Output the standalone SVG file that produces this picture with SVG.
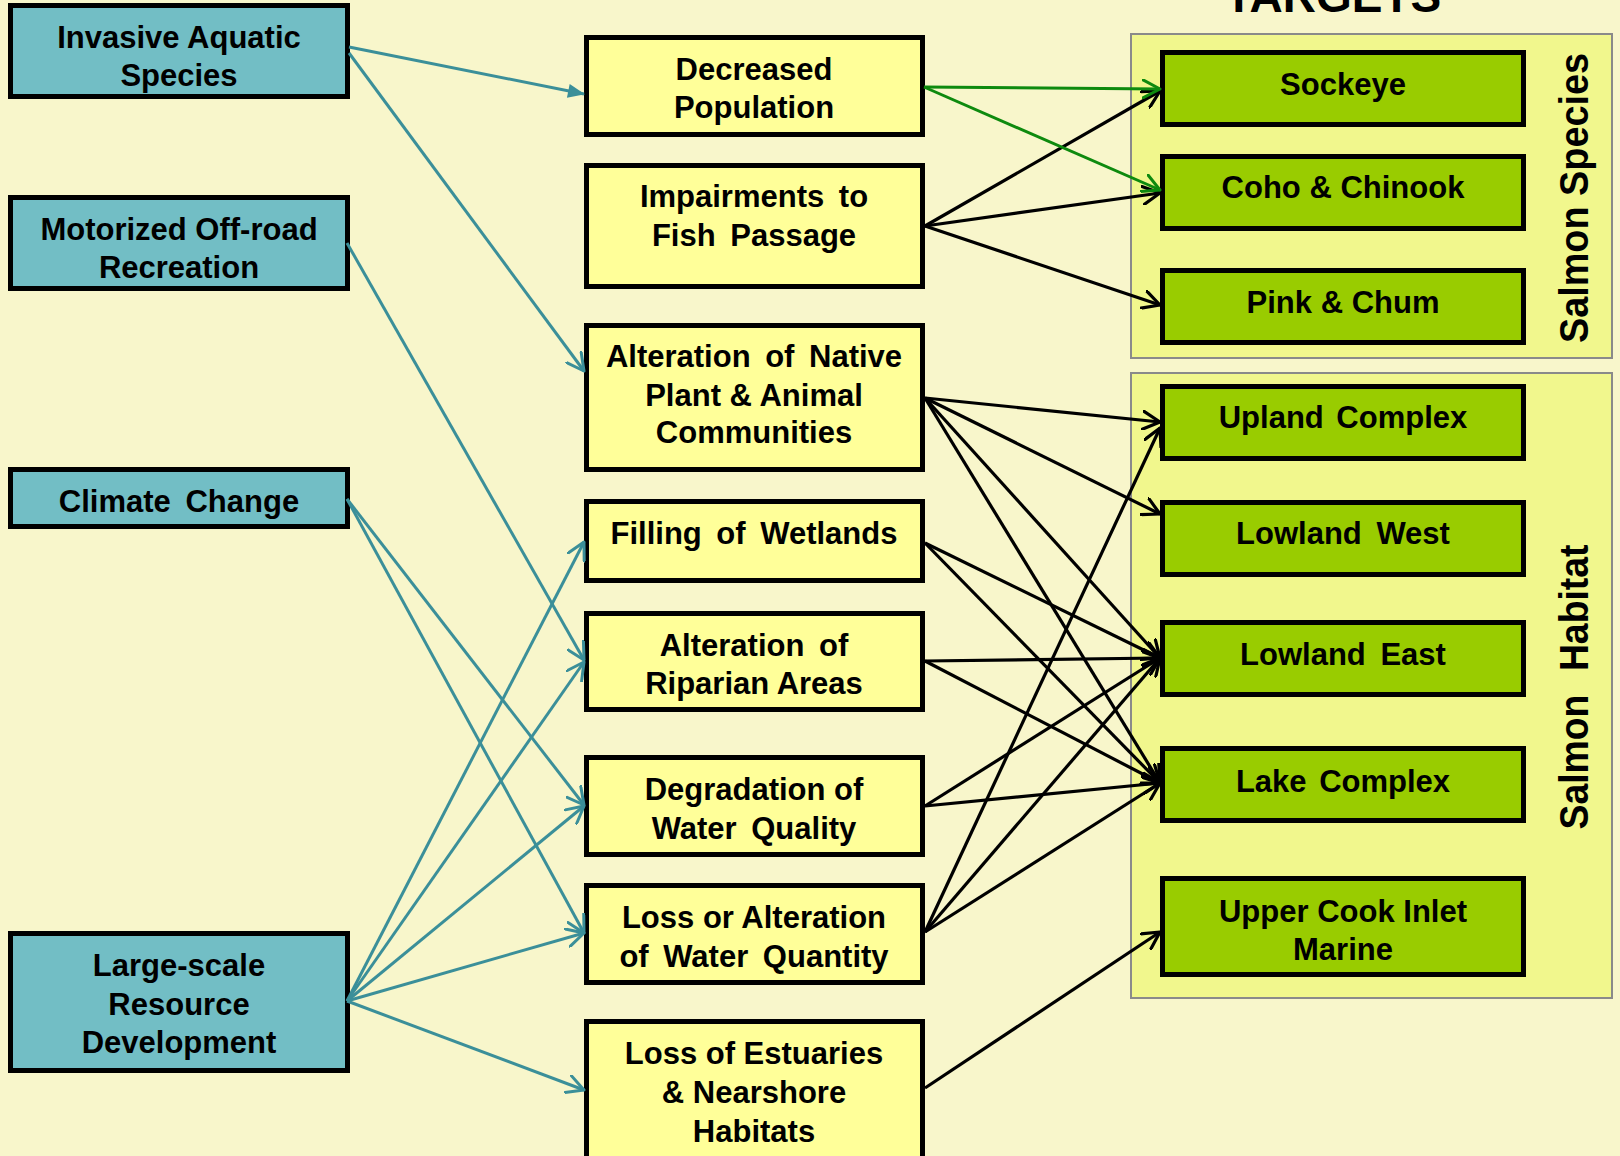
<svg xmlns="http://www.w3.org/2000/svg" width="1620" height="1156" viewBox="0 0 1620 1156">
<style>
.bg{fill:#F8F6CB}
.grp{fill:#F1F78D;stroke:#8A8A8A;stroke-width:2}
.box{stroke:#000;stroke-width:5}
.threat{fill:#72BEC5}
.stress{fill:#FFFF99}
.target{fill:#99CC00}
text{font-family:"Liberation Sans",Arial,sans-serif;font-weight:bold;fill:#000}
.lbl{font-size:31px;text-anchor:middle}
.teal{stroke:#3B8F99;stroke-width:3;fill:none;marker-end:url(#aTeal)}
.blk{stroke:#000;stroke-width:3.2;fill:none;marker-end:url(#aBlk)}
.grn{stroke:#0E8A0E;stroke-width:3;fill:none;marker-end:url(#aGrn)}
</style>
<defs>
<marker id="aTeal" markerUnits="userSpaceOnUse" viewBox="0 0 20 20" markerWidth="20" markerHeight="20" refX="18" refY="10" orient="auto"><path d="M1,1 L18,10 L1,19" fill="none" stroke="#3B8F99" stroke-width="3" stroke-linecap="round" stroke-linejoin="round"/></marker>
<marker id="aTealF" markerUnits="userSpaceOnUse" viewBox="0 0 20 20" markerWidth="20" markerHeight="20" refX="18" refY="10" orient="auto"><path d="M2,3 L19,10 L2,17 Z" fill="#3B8F99"/></marker>
<marker id="aBlk" markerUnits="userSpaceOnUse" viewBox="0 0 20 20" markerWidth="20" markerHeight="20" refX="18" refY="10" orient="auto"><path d="M1,1 L18,10 L1,19" fill="none" stroke="#000" stroke-width="3.2" stroke-linecap="round" stroke-linejoin="round"/></marker>
<marker id="aGrn" markerUnits="userSpaceOnUse" viewBox="0 0 20 20" markerWidth="20" markerHeight="20" refX="18" refY="10" orient="auto"><path d="M1,1 L18,10 L1,19" fill="none" stroke="#0E8A0E" stroke-width="3" stroke-linecap="round" stroke-linejoin="round"/></marker>
</defs>
<rect class="bg" x="0" y="0" width="1620" height="1156"/>
<text x="1333" y="12" font-size="46" text-anchor="middle">TARGETS</text>
<g id="group-salmon-species">
<rect class="grp" x="1131" y="34" width="481" height="324"/>
<text transform="translate(1588,198) rotate(-90)" font-size="40" text-anchor="middle" textLength="290" lengthAdjust="spacingAndGlyphs">Salmon Species</text>
</g>
<g id="group-salmon-habitat">
<rect class="grp" x="1131" y="373" width="481" height="625"/>
<text transform="translate(1588,687) rotate(-90)" font-size="40" text-anchor="middle" textLength="285" lengthAdjust="spacingAndGlyphs" word-spacing="14">Salmon Habitat</text>
</g>
<g id="invasive-aquatic-species"><rect class="box threat" x="10.5" y="5.5" width="337" height="91"/><text class="lbl" x="179" y="48">Invasive Aquatic</text><text class="lbl" x="179" y="86">Species</text></g>
<g id="motorized-off-road"><rect class="box threat" x="10.5" y="197.5" width="337" height="91"/><text class="lbl" x="179" y="240">Motorized Off-road</text><text class="lbl" x="179" y="278">Recreation</text></g>
<g id="climate-change"><rect class="box threat" x="10.5" y="469.5" width="337" height="57"/><text class="lbl" x="179" y="512" word-spacing="6">Climate Change</text></g>
<g id="large-scale-resource"><rect class="box threat" x="10.5" y="933.5" width="337" height="137"/><text class="lbl" x="179" y="976">Large-scale</text><text class="lbl" x="179" y="1015">Resource</text><text class="lbl" x="179" y="1053">Development</text></g>
<g id="decreased-population"><rect class="box stress" x="586.5" y="37.5" width="336" height="97"/><text class="lbl" x="754" y="80">Decreased</text><text class="lbl" x="754" y="118">Population</text></g>
<g id="impairments-fish-passage"><rect class="box stress" x="586.5" y="165.5" width="336" height="121"/><text class="lbl" x="754" y="207" word-spacing="6">Impairments to</text><text class="lbl" x="754" y="246" word-spacing="6">Fish Passage</text></g>
<g id="alteration-native"><rect class="box stress" x="586.5" y="325.5" width="336" height="144"/><text class="lbl" x="754" y="367" word-spacing="6">Alteration of Native</text><text class="lbl" x="754" y="406">Plant &amp; Animal</text><text class="lbl" x="754" y="443">Communities</text></g>
<g id="filling-wetlands"><rect class="box stress" x="586.5" y="501.5" width="336" height="79"/><text class="lbl" x="754" y="544" word-spacing="6">Filling of Wetlands</text></g>
<g id="alteration-riparian"><rect class="box stress" x="586.5" y="613.5" width="336" height="96"/><text class="lbl" x="754" y="656" word-spacing="6">Alteration of</text><text class="lbl" x="754" y="694">Riparian Areas</text></g>
<g id="degradation-water-quality"><rect class="box stress" x="586.5" y="757.5" width="336" height="97"/><text class="lbl" x="754" y="800">Degradation of</text><text class="lbl" x="754" y="839" word-spacing="6">Water Quality</text></g>
<g id="loss-water-quantity"><rect class="box stress" x="586.5" y="885.5" width="336" height="97"/><text class="lbl" x="754" y="928">Loss or Alteration</text><text class="lbl" x="754" y="967" word-spacing="6">of Water Quantity</text></g>
<g id="loss-estuaries"><rect class="box stress" x="586.5" y="1021.5" width="336" height="150"/><text class="lbl" x="754" y="1064">Loss of Estuaries</text><text class="lbl" x="754" y="1103">&amp; Nearshore</text><text class="lbl" x="754" y="1142">Habitats</text></g>
<g id="sockeye"><rect class="box target" x="1162.5" y="52.5" width="361" height="72"/><text class="lbl" x="1343" y="95">Sockeye</text></g>
<g id="coho-chinook"><rect class="box target" x="1162.5" y="156.5" width="361" height="72"/><text class="lbl" x="1343" y="198">Coho &amp; Chinook</text></g>
<g id="pink-chum"><rect class="box target" x="1162.5" y="270.5" width="361" height="72"/><text class="lbl" x="1343" y="313">Pink &amp; Chum</text></g>
<g id="upland-complex"><rect class="box target" x="1162.5" y="386.5" width="361" height="72"/><text class="lbl" x="1343" y="428" word-spacing="4">Upland Complex</text></g>
<g id="lowland-west"><rect class="box target" x="1162.5" y="502.5" width="361" height="72"/><text class="lbl" x="1343" y="544" word-spacing="6">Lowland West</text></g>
<g id="lowland-east"><rect class="box target" x="1162.5" y="622.5" width="361" height="72"/><text class="lbl" x="1343" y="665" word-spacing="6">Lowland East</text></g>
<g id="lake-complex"><rect class="box target" x="1162.5" y="748.5" width="361" height="72"/><text class="lbl" x="1343" y="792" word-spacing="4">Lake Complex</text></g>
<g id="upper-cook-inlet"><rect class="box target" x="1162.5" y="878.5" width="361" height="96"/><text class="lbl" x="1343" y="922">Upper Cook Inlet</text><text class="lbl" x="1343" y="960">Marine</text></g>
<g id="connectors">
<path class="teal" d="M349,47 L584,94" style="marker-end:url(#aTealF)"/>
<path class="teal" d="M349,53 L584,371"/>
<path class="teal" d="M347,243 L584,660"/>
<path class="teal" d="M347,499 L584,805"/>
<path class="teal" d="M347,499 L584,933"/>
<path class="teal" d="M347,1001 L584,542"/>
<path class="teal" d="M347,1001 L584,662"/>
<path class="teal" d="M347,1001 L584,806"/>
<path class="teal" d="M347,1001 L584,933"/>
<path class="teal" d="M347,1001 L584,1090"/>
<path class="blk" d="M925,226 L1160,91"/>
<path class="blk" d="M925,226 L1160,193"/>
<path class="blk" d="M925,226 L1160,305"/>
<path class="blk" d="M925,398 L1160,422"/>
<path class="blk" d="M925,398 L1160,514"/>
<path class="blk" d="M925,398 L1160,658"/>
<path class="blk" d="M925,398 L1160,783"/>
<path class="blk" d="M925,543 L1160,658"/>
<path class="blk" d="M925,543 L1160,783"/>
<path class="blk" d="M925,661 L1160,658"/>
<path class="blk" d="M925,661 L1160,783"/>
<path class="blk" d="M925,806 L1160,658"/>
<path class="blk" d="M925,806 L1160,783"/>
<path class="blk" d="M925,932 L1160,428"/>
<path class="blk" d="M925,932 L1160,658"/>
<path class="blk" d="M925,932 L1160,783"/>
<path class="blk" d="M925,1088 L1160,932"/>
<path class="grn" d="M924,87 L1160,89"/>
<path class="grn" d="M924,87 L1160,190"/>
</g>
</svg>
